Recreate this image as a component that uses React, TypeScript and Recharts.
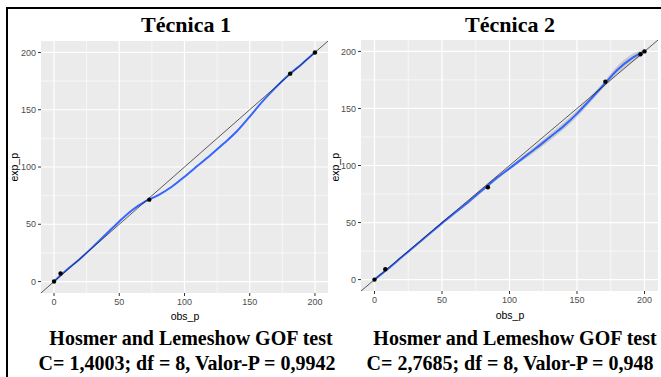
import React from "react";
import {
  ComposedChart,
  XAxis,
  YAxis,
  CartesianGrid,
  Line,
  Area,
  Scatter,
  ReferenceLine,
} from "recharts";

// smooth curve grid (obs_p) shared by both panels
const OBS_GRID = [0, 5, 10, 20, 30, 40, 50, 60, 70, 80, 90, 100, 110, 120, 130, 140, 150, 160, 170, 180, 190, 200];

// Técnica 1: loess fit of exp_p
const T1_FIT = [0, 5.5, 10.5, 20, 30.5, 41.5, 52.5, 62.5, 70, 75.5, 82.5, 91.5, 101, 110.5, 120.5, 131, 144, 157.5, 169.5, 180.5, 190, 200];
const T1_PT_OBS = [0, 5, 73, 181, 200];
const T1_PT_EXP = [0, 7, 71.5, 181.5, 200];

// Técnica 2: loess fit and half width of the grey band
const T2_FIT = [0, 4.8, 9.5, 19.5, 29.5, 39.5, 49.5, 59, 68.5, 78.5, 88.5, 97.5, 106.5, 115.5, 125, 134.5, 145.5, 158, 171, 184, 193.5, 200];
const T2_BAND = [1, 1, 1, 1, 1, 1, 1, 1.2, 1.5, 1.5, 1.5, 1.5, 2, 2.5, 3, 3, 3, 2.5, 2.5, 3.5, 3.5, 2];
const T2_PT_OBS = [0, 8, 84, 171, 197, 200];
const T2_PT_EXP = [0, 9, 81, 173.5, 197.5, 200];

const MAJOR = [0, 50, 100, 150, 200];
const MINOR = [25, 75, 125, 175];
const DOMAIN: [number, number] = [-10, 210];

const SANS = "'Liberation Sans', Arial, sans-serif";
const SERIF = "'Liberation Serif', 'Times New Roman', serif";

interface PanelProps {
  fit: number[];
  band?: number[];
  ptsObs: number[];
  ptsExp: number[];
  width: number;
  height: number;
  top: number;
  right: number;
  yWidth: number;
}

const dotShape = (p: any) => <circle cx={p.cx} cy={p.cy} r={2.2} fill="#000" />;

function Panel({ fit, band, ptsObs, ptsExp, width, height, top, right, yWidth }: PanelProps) {
  const curve = OBS_GRID.map((obs, i) => ({
    obs,
    exp: fit[i],
    band: band ? [fit[i] - band[i], fit[i] + band[i]] : undefined,
  }));
  const points = ptsObs.map((obs, i) => ({ obs, exp: ptsExp[i] }));
  const tick = { fontSize: 9, fill: "#4D4D4D", fontFamily: SANS };

  return (
    <ComposedChart width={width} height={height} data={curve} margin={{ top, right, bottom: 0, left: 0 }}>
      <CartesianGrid fill="#EBEBEB" stroke="#FFFFFF" strokeWidth={0.6} horizontalValues={MINOR} verticalValues={MINOR} />
      <CartesianGrid stroke="#FFFFFF" strokeWidth={1.2} horizontalValues={MAJOR} verticalValues={MAJOR} />
      <XAxis
        type="number"
        dataKey="obs"
        domain={DOMAIN}
        ticks={MAJOR}
        allowDataOverflow
        axisLine={false}
        tickLine={{ stroke: "#333333" }}
        tickSize={3}
        tickMargin={3}
        tick={tick}
        height={30}
      />
      <YAxis
        type="number"
        domain={DOMAIN}
        ticks={MAJOR}
        allowDataOverflow
        axisLine={false}
        tickLine={{ stroke: "#333333" }}
        tickSize={3}
        tickMargin={2}
        tick={tick}
        width={yWidth}
      />
      {band && (
        <Area
          dataKey="band"
          stroke="none"
          fill="#999999"
          fillOpacity={0.4}
          type="monotone"
          isAnimationActive={false}
        />
      )}
      <Line dataKey="exp" stroke="#3366FF" strokeWidth={2} dot={false} type="monotone" isAnimationActive={false} />
      <ReferenceLine
        segment={[{ x: DOMAIN[0], y: DOMAIN[0] }, { x: DOMAIN[1], y: DOMAIN[1] }]}
        stroke="#1a1a1a"
        strokeWidth={0.7}
        ifOverflow="visible"
      />
      <Scatter data={points} dataKey="exp" fill="#000000" shape={dotShape} isAnimationActive={false} />
    </ComposedChart>
  );
}

function CenterText({
  x,
  y,
  size,
  serif,
  rotate,
  children,
}: {
  x: number;
  y: number;
  size: number;
  serif?: boolean;
  rotate?: boolean;
  children: React.ReactNode;
}) {
  return (
    <div
      style={{
        position: "absolute",
        left: x - 200,
        top: y - size / 2,
        width: 400,
        height: size,
        lineHeight: `${size}px`,
        fontSize: size,
        fontFamily: serif ? SERIF : SANS,
        fontWeight: serif ? "bold" : "normal",
        color: "#000",
        textAlign: "center",
        whiteSpace: "nowrap",
        transform: rotate ? "rotate(-90deg)" : undefined,
      }}
    >
      {children}
    </div>
  );
}

export default function App() {
  return (
    <div
      style={{
        position: "absolute",
        left: 0,
        top: 0,
        width: 661,
        height: 377,
        overflow: "hidden",
        background: "#fff",
      }}
    >
      <div
        style={{
          position: "absolute",
          left: 6,
          top: 7,
          width: 700,
          height: 400,
          borderLeft: "2px solid #000",
          borderTop: "2px solid #000",
        }}
      />
      <div style={{ position: "absolute", left: 0, top: 0 }}>
        <Panel fit={T1_FIT} ptsObs={T1_PT_OBS} ptsExp={T1_PT_EXP} width={330} height={323} top={41} right={2} yWidth={41} />
      </div>
      <div style={{ position: "absolute", left: 330, top: 0 }}>
        <Panel
          fit={T2_FIT}
          band={T2_BAND}
          ptsObs={T2_PT_OBS}
          ptsExp={T2_PT_EXP}
          width={331}
          height={321}
          top={40}
          right={3}
          yWidth={31}
        />
      </div>

      <CenterText x={186} y={25} size={22} serif>Técnica 1</CenterText>
      <CenterText x={510} y={25} size={22} serif>Técnica 2</CenterText>

      <CenterText x={14} y={167} size={10.5} rotate>exp_p</CenterText>
      <CenterText x={335} y={167} size={10.5} rotate>exp_p</CenterText>
      <CenterText x={185} y={316} size={10.5}>obs_p</CenterText>
      <CenterText x={510} y={315} size={10.5}>obs_p</CenterText>

      <CenterText x={191} y={337.5} size={20} serif>Hosmer and Lemeshow GOF test</CenterText>
      <CenterText x={187} y={362.5} size={20} serif>C= 1,4003; df = 8, Valor-P = 0,9942</CenterText>
      <CenterText x={515} y={337.5} size={20} serif>Hosmer and Lemeshow GOF test</CenterText>
      <CenterText x={510} y={362.5} size={20} serif>C= 2,7685; df = 8, Valor-P = 0,948</CenterText>
    </div>
  );
}
